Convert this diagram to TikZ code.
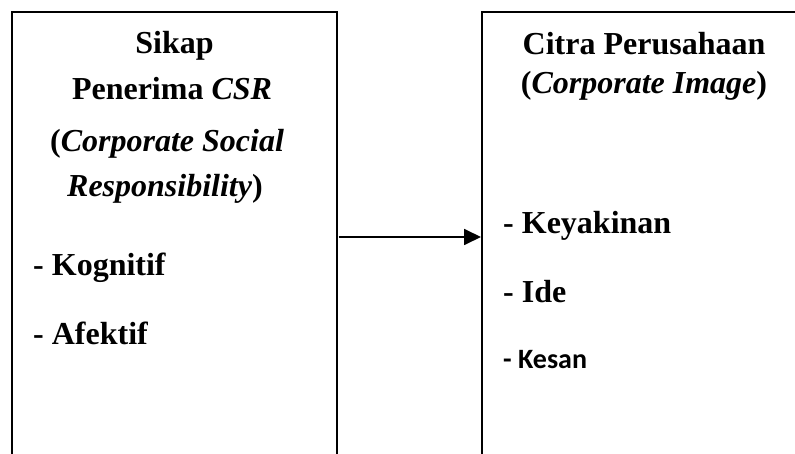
\documentclass[tikz,border=0pt]{standalone}
\usepackage{fontspec}
\setmainfont{Liberation Serif}
\newfontfamily\calib{Carlito}
\usetikzlibrary{arrows.meta}
\begin{document}
\begin{tikzpicture}[x=1pt,y=-1pt,
  boxline/.style={line width=2pt,draw=black},
  lbl/.style={inner sep=0pt,font=\fontsize{32}{38}\selectfont\bfseries},
  ttl/.style={lbl,anchor=base},
  item/.style={lbl,anchor=base west},
  conn/.style={line width=1.8pt,-{Triangle[length=17pt,width=16pt]}}]
\useasboundingbox (0,0) rectangle (795,454);
% left box (open at bottom)
\draw[boxline] (12,456) -- (12,12) -- (337,12) -- (337,456);
% right box (open at bottom and right)
\draw[boxline] (482,456) -- (482,12) -- (797,12);
\coordinate (lb) at (338.5,237);
\coordinate (rb) at (481,237);
% left texts
\node[ttl] (sikap) at (174.5,54) {Sikap};
\node[ttl] (pen) at (172,100) {Penerima \textit{CSR}};
\node[ttl] (corp) at (167,152) {(\textit{Corporate Social}};
\node[ttl] (resp) at (165,197) {\textit{Responsibility})};
\node[item] (kog) at (33,276) {- Kognitif};
\node[item] (afe) at (33,344) {- Afektif};
% right texts
\node[ttl] (citra) at (644,55) {Citra Perusahaan};
\node[ttl] (ci) at (644,94) {(\textit{Corporate Image})};
\node[item] (key) at (503,234) {- Keyakinan};
\node[item] (ide) at (503,303) {- Ide};
\node[inner sep=0pt,anchor=base west,font=\calib\fontsize{28}{34}\selectfont\bfseries] (kes) at (503,368) {- Kesan};
% connector
\draw[conn] (lb) -- (rb);
\end{tikzpicture}
\end{document}
